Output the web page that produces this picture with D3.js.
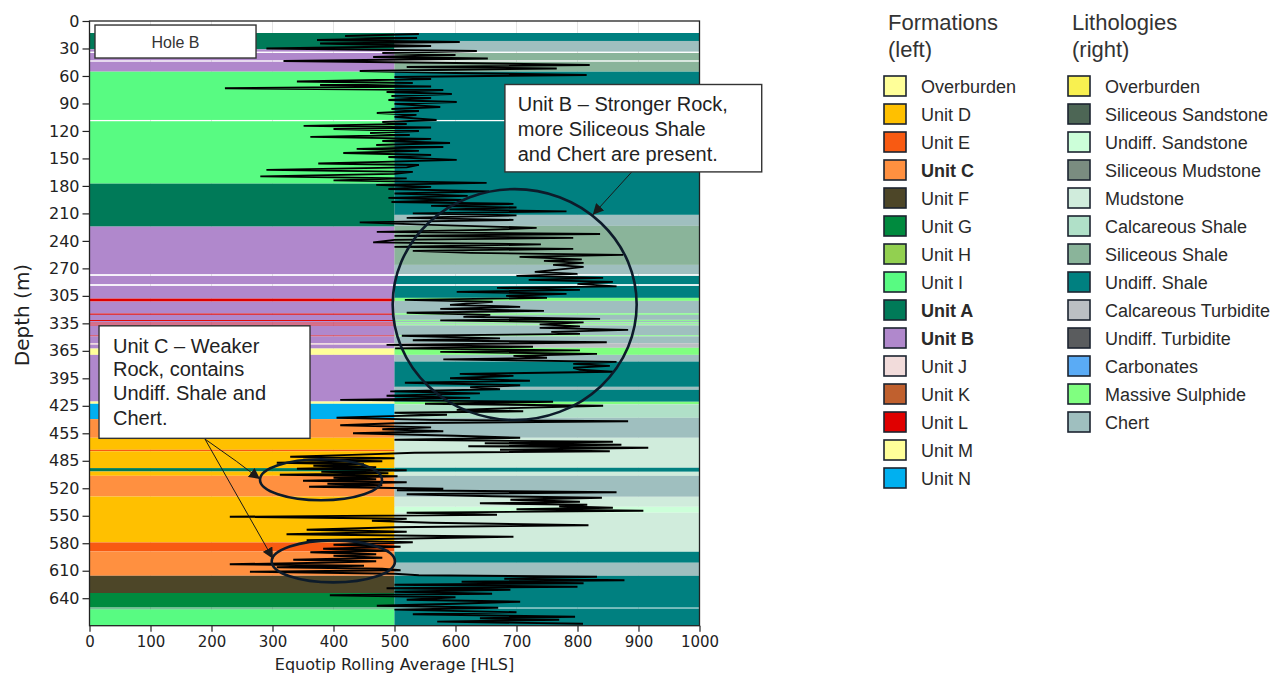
<!DOCTYPE html>
<html>
<head>
<meta charset="utf-8">
<script src="https://cdn.jsdelivr.net/npm/d3@7"></script>
<style>
  body { margin: 0; background: #fff; }
  svg { display: block; }
</style>
</head>
<body>
<div id="chart"></div>
<script>
// ---------- data ----------
// depth axis: tick positions and the labels printed on them
const yTickDepths = [0, 30, 60, 90, 120, 150, 180, 210, 240, 270, 300, 330, 360, 390, 420, 450, 480, 510, 540, 570, 600, 630];
const yTickLabels = ["0", "30", "60", "90", "120", "150", "180", "210", "240", "270", "305", "335", "365", "395", "425", "455", "485", "520", "550", "580", "610", "640"];
const xTicks = [0, 100, 200, 300, 400, 500, 600, 700, 800, 900, 1000];

const formationNames = ["Overburden", "Unit D", "Unit E", "Unit C", "Unit F", "Unit G", "Unit H", "Unit I", "Unit A", "Unit B", "Unit J", "Unit K", "Unit L", "Unit M", "Unit N"];
const formationColors = ["#ffff99", "#ffc000", "#f85a12", "#ff9040", "#4d4628", "#008a3e", "#92d050", "#58fb82", "#007a58", "#b088cc", "#f2dcdb", "#c0602e", "#e00000", "#ffff99", "#00b0f0"];
const formationBold = ["Unit C", "Unit A", "Unit B"];

const lithologyNames = ["Overburden", "Siliceous Sandstone", "Undiff. Sandstone", "Siliceous Mudstone", "Mudstone", "Calcareous Shale", "Siliceous Shale", "Undiff. Shale", "Calcareous Turbidite", "Undiff. Turbidite", "Carbonates", "Massive Sulphide", "Chert"];
const lithologyColors = ["#f8f050", "#4d6655", "#ccffd9", "#7a8c80", "#d0ecdc", "#b0e0c8", "#8ab49a", "#008080", "#bbbfc3", "#5a5c5e", "#5aabf5", "#80ff80", "#9fbfbf"];

// [top, bottom, formation] (left half of the log)
const formationBands = [
  [13.1, 30.9, "Unit A"], [30.9, 33.4, "Unit B"], [34.9, 42.9, "Unit B"], [44.4, 55.3, "Unit B"],
  [55.3, 108, "Unit I"], [109.4, 177.5, "Unit I"], [177.5, 224.4, "Unit A"],
  [224.4, 276.3, "Unit B"], [278.2, 287.2, "Unit B"], [289.1, 303, "Unit B"],
  [303, 306.2, "Unit L"], [306.2, 319.3, "Unit B"], [319.3, 320.7, "Unit L"], [320.7, 326.4, "Unit B"],
  [326.4, 327.5, "Unit L"], [327.5, 329.2, "Unit B"], [329.2, 330.3, "Unit L"], [330.3, 331.4, "Unit B"],
  [331.4, 332.5, "Unit L"], [332.5, 343.3, "Unit B"], [343.3, 344.2, "Unit L"], [344.2, 351.8, "Unit B"],
  [351.8, 353.3, "Unit J"], [353.3, 357.5, "Unit B"], [357.5, 364.4, "Unit M"], [364.4, 415.3, "Unit B"],
  [415.3, 417.8, "Unit M"], [417.8, 434.5, "Unit N"], [434.5, 454.9, "Unit C"], [454.9, 468, "Unit D"],
  [468, 469.6, "Unit E"], [469.6, 488, "Unit D"], [488, 491.7, "Unit A"], [491.7, 496.4, "Unit D"],
  [496.4, 519, "Unit C"], [519, 569.1, "Unit D"], [569.1, 578.9, "Unit E"], [578.9, 605.5, "Unit C"],
  [605.5, 624.3, "Unit F"], [624.3, 640.2, "Unit G"], [641.2, 642.2, "Unit G"], [642.2, 660, "Unit I"]
];

// [top, bottom, lithology] (right half of the log)
const lithologyBands = [
  [13.1, 21.8, "Undiff. Shale"], [21.8, 33.4, "Chert"], [34.9, 42.9, "Siliceous Shale"], [44.4, 55.3, "Siliceous Shale"],
  [55.3, 108, "Undiff. Shale"], [109.4, 211.6, "Undiff. Shale"], [211.6, 223.6, "Chert"],
  [223.6, 266.2, "Siliceous Shale"], [266.2, 276.3, "Chert"], [278.2, 287.2, "Undiff. Shale"],
  [289.1, 302.2, "Undiff. Shale"], [302.2, 305.5, "Massive Sulphide"], [305.5, 319.1, "Chert"],
  [319.1, 320.7, "Massive Sulphide"], [320.7, 326.2, "Chert"], [326.2, 327.3, "Massive Sulphide"],
  [327.3, 328.9, "Chert"], [328.9, 330, "Massive Sulphide"], [330, 331.1, "Chert"], [331.1, 332.2, "Massive Sulphide"],
  [332.2, 343.1, "Chert"], [343.1, 344.2, "Massive Sulphide"], [344.2, 351.8, "Chert"],
  [351.8, 356.7, "Calcareous Turbidite"], [356.7, 364.4, "Massive Sulphide"], [364.4, 371.7, "Chert"],
  [371.7, 399.3, "Undiff. Shale"], [399.3, 402.5, "Chert"], [402.5, 415.6, "Undiff. Shale"],
  [415.6, 418.4, "Massive Sulphide"], [418.4, 433.1, "Calcareous Shale"], [433.1, 454.9, "Chert"],
  [454.9, 487.6, "Mudstone"], [487.6, 492, "Undiff. Shale"], [492, 496.4, "Mudstone"], [496.4, 519.3, "Chert"],
  [519.3, 530.2, "Mudstone"], [530.2, 536.7, "Undiff. Sandstone"], [536.7, 579.3, "Mudstone"],
  [579.3, 591.3, "Undiff. Shale"], [591.3, 605.5, "Chert"], [605.5, 640.2, "Undiff. Shale"], [641.2, 660, "Undiff. Shale"]
];

// Equotip rolling average: [depth, HLS]
const equotip = [
  [14.2,540],[16.4,419],[18.5,537],[20.7,373],[22.9,607],[24.5,378],[27.3,560],[30,290],[32.7,635],[34.9,480],
  [37.1,600],[39.3,465],[40.9,653],[43.6,318],[45.8,600],[48,820],[50.2,520],[51.8,766],[54.5,443],[56.7,600],
  [58.9,815],[61.1,500],[63.3,560],[66,340],[67.6,530],[69.8,378],[71.5,560],[73.4,222],[75.3,580],[77.5,487],
  [79.6,594],[81.8,495],[84,560],[86.2,490],[88.4,602],[90.5,500],[93.8,575],[96,495],[98.2,540],[100.4,471],
  [102.5,536],[104.7,500],[108,569],[110.2,480],[112.4,520],[114.5,351],[116.2,560],[117.8,400],[120,540],[122.2,460],
  [124.4,525],[126.5,362],[128.7,560],[130.9,480],[133.1,591],[135.3,470],[137.5,580],[139.6,438],[141.8,540],[144,416],
  [146.2,560],[148.4,490],[151.6,602],[153.8,480],[155.5,375],[157.1,540],[159.8,520],[162.5,290],[164.7,530],[166.9,500],
  [169.6,280],[171.8,520],[174,400],[176.7,651],[178.9,470],[181.1,560],[183.3,490],[186,655],[188.2,500],[190.9,620],
  [193.1,490],[195.3,610],[197.5,495],[199.6,695],[201.8,560],[203.5,700],[205.6,590],[207.8,782],[210,530],[212.2,700],
  [214.9,520],[217.1,695],[219.8,443],[222.5,560],[225.8,733],[228,650],[230.2,471],[232.4,837],[234.5,500],[236.7,793],
  [238.9,500],[241.6,465],[243.8,740],[246.5,500],[248.7,793],[250.9,530],[253.1,624],[255.3,875],[257.5,705],[260.2,807],
  [261.8,745],[264,810],[266.2,760],[268.4,810],[270.5,780],[273.8,730],[276,800],[278.2,700],[280.4,842],[282.5,720],
  [284.7,858],[286.9,800],[289.6,864],[291.3,668],[293.5,804],[295.6,602],[297.8,782],[300,683],[302.2,750],[304.4,517],
  [306.5,661],[309.8,591],[312,706],[314.2,575],[316.4,745],[318.5,520],[320.7,657],[322.9,613],[325.1,837],[326.7,575],
  [328.9,810],[331.1,738],[333.3,804],[334.9,738],[337.1,883],[339.3,757],[341.5,804],[343.6,512],[346.4,673],[348.5,530],
  [350.7,848],[353.5,487],[355.6,727],[357.3,501],[359.5,804],[361.1,575],[363.3,832],[365.5,695],[367.6,750],[369.3,580],
  [372,864],[374.2,793],[376.4,853],[378.5,793],[380.7,804],[382.9,858],[385.1,607],[387.3,695],[390,591],[392.7,722],
  [394.9,517],[397.6,706],[399.8,624],[402,673],[404.2,493],[406.4,640],[409.1,487],[411.3,624],[413.5,411],[415.6,760],
  [417.8,550],[420,842],[422.2,707],[424.4,602],[426,711],[427.6,500],[429.8,586],[431.5,476],[433.1,405],[435.3,560],
  [436.9,883],[439.1,500],[441.3,411],[443.5,560],[445.6,480],[447.8,580],[450,432],[452.7,600],[454.9,706],[457.1,500],
  [459.3,858],[460.9,648],[462.5,872],[464.2,621],[465.8,916],[468,673],[469.6,853],[471.3,533],[473.5,430],[475.6,329],
  [477.3,500],[478.9,350],[480.5,480],[482.2,307],[483.8,450],[485.5,367],[487.1,470],[488.7,340],[490.4,520],[492,380],
  [493.6,490],[495.3,312],[496.9,505],[498.5,400],[500.2,470],[501.8,350],[503.5,520],[505.1,390],[506.7,480],[508.4,360],
  [510.5,580],[512.2,504],[514.4,864],[516.5,520],[518.7,660],[520.4,840],[522.5,690],[524.7,804],[526.4,640],[528,816],
  [529.6,770],[531.3,858],[532.9,700],[534.5,908],[536.7,520],[538.9,668],[541.1,230],[543.3,520],[545.5,463],[547.6,560],
  [550.4,818],[552.5,500],[555.3,356],[557.5,520],[560.2,323],[562.9,695],[565.1,500],[566.7,356],[568.9,530],[571.6,400],
  [573.8,510],[576,383],[578.2,490],[579.8,362],[582,470],[583.6,400],[585.8,480],[588,334],[589.6,470],[591.3,380],
  [592.9,230],[594.5,450],[596.2,307],[597.8,480],[599.5,510],[601.1,263],[603.3,500],[604.9,540],[606.5,832],[608.7,680],
  [610.4,877],[612,610],[613.6,810],[615.3,500],[617.5,800],[619.1,487],[620.7,690],[622.9,500],[625.1,660],[626.7,394],
  [628.9,600],[631.6,520],[633.8,706],[636,600],[638.2,471],[640.4,670],[642.5,500],[645.3,700],[647.5,530],[650.2,796],
  [651.8,640],[653.5,770],[655.6,570],[657.8,809]
];

// annotation ellipses in data units: [cx HLS, cy depth, rx HLS, ry depth]
const highlightEllipses = [[697, 309.5, 200, 126], [379.5, 500.7, 100, 22.4], [399.7, 589.8, 101, 22.9]];

// ---------- chart ----------
const W = 1285, H = 679;
const svg = d3.select("#chart").append("svg").attr("width", W).attr("height", H);

const x = d3.scaleLinear().domain([0, 1000]).range([89.5, 699.5]);
const y = d3.scaleLinear().domain([0, 660]).range([21, 625.7]);
const fColor = d3.scaleOrdinal().domain(formationNames.slice(1)).range(formationColors.slice(1));
const lColor = d3.scaleOrdinal().domain(lithologyNames).range(lithologyColors);

// faint vertical grid
svg.append("g").selectAll("line").data(xTicks.slice(1, -1)).join("line")
    .attr("x1", d => x(d)).attr("x2", d => x(d))
    .attr("y1", y(0)).attr("y2", y(660))
    .attr("stroke", "#e4e4e4").attr("stroke-width", 1);

svg.append("g").selectAll("rect").data(formationBands).join("rect")
    .attr("x", x(0)).attr("width", x(500) - x(0))
    .attr("y", d => y(d[0])).attr("height", d => y(d[1]) - y(d[0]))
    .attr("fill", d => fColor(d[2]));

svg.append("g").selectAll("rect").data(lithologyBands).join("rect")
    .attr("x", x(500)).attr("width", x(1000) - x(500))
    .attr("y", d => y(d[0])).attr("height", d => y(d[1]) - y(d[0]))
    .attr("fill", d => lColor(d[2]));

// Equotip trace
const line = d3.line().x(d => x(d[1])).y(d => y(d[0]));
svg.append("path").datum(equotip)
    .attr("d", line)
    .attr("fill", "none").attr("stroke", "#000").attr("stroke-width", 1.9)
    .attr("stroke-linejoin", "miter");

// axes
const yAxis = svg.append("g").attr("transform", `translate(${x(0)},0)`)
    .call(d3.axisLeft(y).tickValues(yTickDepths).tickFormat((d, i) => yTickLabels[i]).tickSize(7).tickPadding(3));
const xAxis = svg.append("g").attr("transform", `translate(0,${y(660)})`)
    .call(d3.axisBottom(x).tickValues(xTicks).tickFormat(d3.format("d")).tickSize(6).tickPadding(5));
[yAxis, xAxis].forEach(g => {
    g.select(".domain").remove();
    g.selectAll(".tick line").attr("stroke", "#222").attr("stroke-width", 1.2);
    g.selectAll("text").attr("fill", "#222").style("font-family", "DejaVu Sans, sans-serif");
});
yAxis.selectAll("text").style("font-size", "16px");
xAxis.selectAll("text").style("font-size", "15px");

svg.append("rect")
    .attr("x", x(0)).attr("y", y(0))
    .attr("width", x(1000) - x(0)).attr("height", y(660) - y(0))
    .attr("fill", "none").attr("stroke", "#222").attr("stroke-width", 1.3);

svg.append("text")
    .attr("x", x(500)).attr("y", 670)
    .attr("text-anchor", "middle")
    .style("font-family", "DejaVu Sans, sans-serif").style("font-size", "16px").attr("fill", "#222")
    .text("Equotip Rolling Average [HLS]");

svg.append("text")
    .attr("transform", "translate(29,315) rotate(-90)")
    .attr("text-anchor", "middle")
    .style("font-family", "DejaVu Sans, sans-serif").style("font-size", "20px").attr("fill", "#222")
    .text("Depth (m)");

// ellipses
svg.append("g").selectAll("ellipse").data(highlightEllipses).join("ellipse")
    .attr("cx", d => x(d[0])).attr("cy", d => y(d[1]))
    .attr("rx", d => x(d[0] + d[2]) - x(d[0])).attr("ry", d => y(d[1] + d[3]) - y(d[1]))
    .attr("fill", "none").attr("stroke", "#0d1b2a").attr("stroke-width", 2.6);

// annotation boxes and arrows
const defs = svg.append("defs");
defs.append("marker").attr("id", "arrow")
    .attr("viewBox", "0 0 10 10").attr("refX", 10).attr("refY", 5)
    .attr("markerWidth", 11).attr("markerHeight", 11).attr("markerUnits", "userSpaceOnUse")
    .attr("orient", "auto")
    .append("path").attr("d", "M0,0 L10,5 L0,10 z").attr("fill", "#1a1a1a");

const annoFont = "Liberation Sans, Arial, sans-serif";

function box(x0, x1, d0, d1) {
    svg.append("rect")
        .attr("x", x(x0)).attr("y", y(d0))
        .attr("width", x(x1) - x(x0)).attr("height", y(d1) - y(d0))
        .attr("fill", "#fff").attr("stroke", "#333").attr("stroke-width", 1.4);
}
function arrow(pts) {
    svg.append("path")
        .attr("d", d3.line().x(p => x(p[0])).y(p => y(p[1]))(pts))
        .attr("fill", "none").attr("stroke", "#1a1a1a").attr("stroke-width", 1)
        .attr("marker-end", "url(#arrow)");
}

// Hole B
box(9, 273, 4.4, 40.4);
svg.append("text").attr("x", x(141)).attr("y", y(29.1)).attr("text-anchor", "middle")
    .style("font-family", annoFont).style("font-size", "16px").attr("fill", "#333").text("Hole B");

// Unit B note
arrow([[889, 164.7], [825, 211.6]]);
box(681, 1102, 69.3, 164.7);
svg.append("text").selectAll("tspan")
    .data(["Unit B – Stronger Rock,", "more Siliceous Shale", "and Chert are present."]).join("tspan")
    .attr("x", x(702)).attr("y", (d, i) => y([98.2, 125.5, 152.7][i]))
    .style("font-family", annoFont).style("font-size", "20px").attr("fill", "#222").text(d => d);

// Unit C note
arrow([[189.3, 456.3], [241.3, 480.8], [279.5, 500]]);
arrow([[189.3, 456.3], [300.8, 586.9]]);
box(15.6, 361.5, 332.7, 455.5);
svg.append("text").selectAll("tspan")
    .data(["Unit C – Weaker", "Rock, contains", "Undiff. Shale and", "Chert."]).join("tspan")
    .attr("x", x(38.5)).attr("y", (d, i) => y([361.9, 387.8, 414, 441.3][i]))
    .style("font-family", annoFont).style("font-size", "20px").attr("fill", "#222").text(d => d);

// ---------- legends ----------
function legend(x0, title, names, colors, bold) {
    const g = svg.append("g").style("font-family", annoFont).attr("fill", "#222");
    g.append("text").attr("x", x0 + 4).attr("y", 30).style("font-size", "22px").attr("fill", "#333").text(title[0]);
    g.append("text").attr("x", x0 + 4).attr("y", 56.5).style("font-size", "22px").attr("fill", "#333").text(title[1]);
    const item = g.selectAll("g.item").data(names).join("g").attr("class", "item")
        .attr("transform", (d, i) => `translate(${x0},${86 + i * 28})`);
    item.append("rect").attr("x", 0).attr("y", -10).attr("width", 22).attr("height", 20)
        .attr("fill", (d, i) => colors[i]).attr("stroke", "#1c2430").attr("stroke-width", 1.6);
    item.append("text").attr("x", 37).attr("y", 6.5)
        .style("font-size", "18px")
        .style("font-weight", d => bold.includes(d) ? "bold" : "normal")
        .attr("fill", "#2a2a2a")
        .text(d => d);
}
legend(884, ["Formations", "(left)"], formationNames, formationColors, formationBold);
legend(1068, ["Lithologies", "(right)"], lithologyNames, lithologyColors, []);
</script>
</body>
</html>
